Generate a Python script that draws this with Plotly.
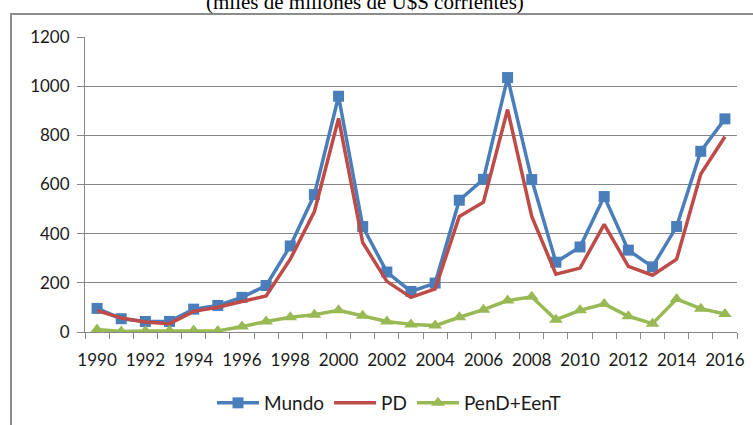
import plotly.graph_objects as go

years = list(range(1990, 2017))
mundo = [96, 54, 43, 43, 93, 108, 141, 189, 350, 559, 959, 429, 244, 165, 199, 536,
         621, 1035, 620, 284, 346, 551, 333, 265, 429, 735, 867]
pd_vals = [87, 57, 41, 34, 84, 101, 124, 147, 296, 490, 869, 364, 206, 141, 175, 470,
           528, 905, 470, 235, 260, 438, 267, 231, 296, 643, 794]
pend = [10, 2, 4, 5, 6, 4, 22, 43, 60, 70, 88, 66, 43, 31, 26, 60,
        91, 128, 143, 50, 88, 114, 64, 34, 134, 95, 73]
y_ticks = [0, 200, 400, 600, 800, 1000, 1200]
x_ticks = list(range(1990, 2017, 2))
title_text = "(miles de millones de U$S corrientes)"

W, H = 753, 425
L, R, T, B = 85, 16, 37, 93
pw, ph = W - L - R, H - T - B

def px_x(p):
    return (p - L) / pw

def px_y(p):
    return (H - B - p) / ph

fig = go.Figure()
fig.add_trace(go.Scatter(x=years, y=mundo, name="Mundo", mode="lines+markers",
                         line=dict(color="#4A7EBB", width=3.5),
                         marker=dict(symbol="square", size=11, color="#4A7EBB")))
fig.add_trace(go.Scatter(x=years, y=pd_vals, name="PD", mode="lines",
                         line=dict(color="#BE4B48", width=3.5)))
fig.add_trace(go.Scatter(x=years, y=pend, name="PenD+EenT", mode="lines+markers",
                         line=dict(color="#98B954", width=3.5),
                         marker=dict(symbol="triangle-up", size=12, color="#98B954")))

font = dict(family="Lato", size=17, color="#1a1a1a")
fig.update_layout(
    width=W, height=H,
    margin=dict(l=L, r=R, t=T, b=B, pad=0),
    paper_bgcolor="white", plot_bgcolor="white",
    font=font,
    showlegend=True,
    legend=dict(orientation="h", xref="container", yref="container",
                x=389 / W, xanchor="center", y=1 - 403 / H, yanchor="middle",
                font=dict(family="Lato", size=19, color="#1a1a1a"), itemwidth=42, tracegroupgap=0),
    xaxis=dict(range=[1989.5, 2016.5], tickmode="array", tickvals=x_ticks,
               ticktext=[str(v) for v in x_ticks], ticks="", showgrid=False,
               showline=True, linecolor="#868686", linewidth=1, zeroline=False,
               ticklabelstandoff=13, automargin=False,
               minor=dict(tickmode="linear", tick0=1989.5, dtick=1, ticks="outside",
                          ticklen=6, tickcolor="#868686", showgrid=False)),
    yaxis=dict(range=[0, 1200], tickmode="array", tickvals=y_ticks,
               showgrid=True, gridcolor="#868686", gridwidth=1,
               showline=True, linecolor="#868686", linewidth=1, zeroline=False,
               ticks="outside", ticklen=7, tickcolor="#868686", ticklabelstandoff=4,
               automargin=False),
)

fig.add_shape(type="rect", xref="paper", yref="paper",
              x0=px_x(11), x1=px_x(780), y0=px_y(460), y1=px_y(14),
              line=dict(color="#8C8C8C", width=2), fillcolor="rgba(0,0,0,0)", layer="below")

fig.add_annotation(text=title_text, xref="paper", yref="paper",
                   x=px_x(365), y=px_y(16), xanchor="center", yanchor="bottom",
                   showarrow=False, font=dict(family="Liberation Serif", size=21, color="#000"))

fig.write_html("out.html", config={"displayModeBar": False},
               post_script="document.body.style.margin='0px';")
